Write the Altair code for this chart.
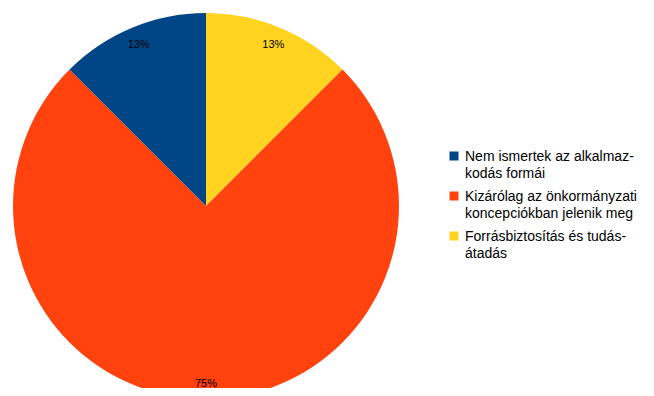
import altair as alt
import pandas as pd

categories = [
    "Forrásbiztosítás és tudás-|átadás",
    "Kizárólag az önkormányzati|koncepciókban jelenik meg",
    "Nem ismertek az alkalmaz-|kodás formái",
]
values = [12.5, 75.0, 12.5]
labels = ["13%", "75%", "13%"]
legend_order = [
    "Nem ismertek az alkalmaz-|kodás formái",
    "Kizárólag az önkormányzati|koncepciókban jelenik meg",
    "Forrásbiztosítás és tudás-|átadás",
]
colors = ["#004586", "#ff420e", "#ffd320"]

df = pd.DataFrame({"cat": categories, "val": values, "lab": labels, "order": [0, 1, 2]})

base = alt.Chart(df).encode(
    theta=alt.Theta("val:Q", stack=True),
    order=alt.Order("order:Q"),
)

arc = base.mark_arc(outerRadius=193, stroke=None).encode(
    x=alt.value(198),
    y=alt.value(198),
    color=alt.Color(
        "cat:N",
        scale=alt.Scale(domain=legend_order, range=colors),
        legend=alt.Legend(
            title=None,
            orient="none",
            legendX=439,
            legendY=141,
            symbolType="square",
            symbolSize=81,
            symbolStrokeWidth=0,
            labelFont="Liberation Sans",
            labelFontSize=14,
            labelColor="#000000",
            labelExpr="split(datum.label, '|')",
            labelLimit=300,
            rowPadding=8,
            labelOffset=4,
            labelBaseline="top",
            symbolOffset=0,
        ),
    ),
)

text = base.mark_text(
    radius=176, dy=2, font="Liberation Sans", fontSize=11, color="#000000"
).encode(
    x=alt.value(198),
    y=alt.value(198),
    text="lab:N",
)

chart = (
    (arc + text)
    .properties(width=638, height=380, padding=0, autosize=alt.AutoSizeParams(type="none"))
    .configure(style={"guide-label": {"lineHeight": 17, "dy": -6}, "cell": {"stroke": None}})
    .configure_view(stroke=None)
)

chart.save("out.html", embed_options={"renderer": "svg", "actions": False})
